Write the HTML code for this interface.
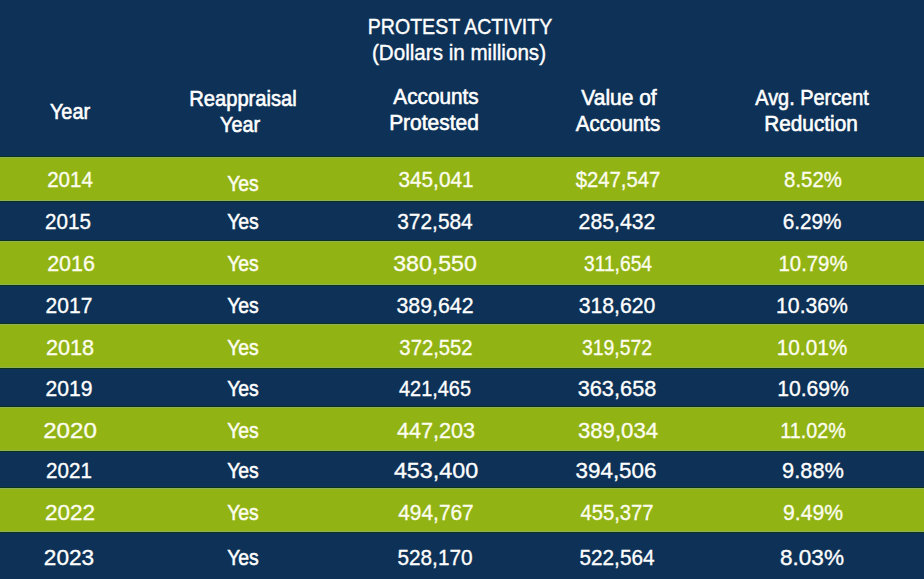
<!DOCTYPE html>
<html lang="en"><head><meta charset="utf-8"><title>Protest Activity</title>
<style>
html,body{margin:0;padding:0;}
body{width:924px;height:579px;overflow:hidden;background:#0e3257;font-family:"Liberation Sans",Arial,sans-serif;color:#fff;position:relative;}
.head{position:absolute;left:0;top:0;width:924px;height:157px;box-shadow:inset 0 -1px #0e3317;}
.row{position:absolute;left:0;width:924px;}
.g{background:#92b314;box-shadow:inset 0 1px #8eb05c,inset 0 -1px #8eb05c;}
.b{background:#0e3257;box-shadow:inset 0 1px #0e3317,inset 0 -1px #0e3317;}
.b.last{box-shadow:inset 0 1px #0e3317;}
.i{position:absolute;white-space:nowrap;line-height:1;-webkit-text-stroke:0.35px #fff;}
.h{-webkit-text-stroke-width:0.6px;}
.t{-webkit-text-stroke-width:0.4px;}
.y{-webkit-text-stroke-width:0.55px;}
.g .i{color:#fcfdee;-webkit-text-stroke-color:#fcfdee;}
</style></head><body>
<div class="head">
<span class="i t" id="t0" style="left:459.95px;top:15.71px;font-size:22.50px;transform:translateX(-50%) scaleX(0.8699);">PROTEST ACTIVITY</span>
<span class="i t" id="t1" style="left:458.95px;top:41.81px;font-size:22.00px;transform:translateX(-50%) scaleX(0.9365);">(Dollars in millions)</span>
<span class="i h" id="h0" style="left:69.75px;top:100.81px;font-size:22.00px;transform:translateX(-50%) scaleX(0.9025);">Year</span>
<span class="i h" id="h1" style="left:242.95px;top:87.91px;font-size:22.00px;transform:translateX(-50%) scaleX(0.9166);">Reappraisal</span>
<span class="i h" id="h2" style="left:240.15px;top:113.91px;font-size:22.00px;transform:translateX(-50%) scaleX(0.8982);">Year</span>
<span class="i h" id="h3" style="left:436.25px;top:85.91px;font-size:22.00px;transform:translateX(-50%) scaleX(0.9424);">Accounts</span>
<span class="i h" id="h4" style="left:434.40px;top:111.50px;font-size:22.00px;transform:translateX(-50%) scaleX(0.9529);">Protested</span>
<span class="i h" id="h5" style="left:619.40px;top:86.81px;font-size:22.00px;transform:translateX(-50%) scaleX(0.9531);">Value of</span>
<span class="i h" id="h6" style="left:618.10px;top:113.00px;font-size:22.00px;transform:translateX(-50%) scaleX(0.9335);">Accounts</span>
<span class="i h" id="h7" style="left:812.15px;top:87.31px;font-size:22.00px;transform:translateX(-50%) scaleX(0.9043);">Avg. Percent</span>
<span class="i h" id="h8" style="left:811.10px;top:113.41px;font-size:22.00px;transform:translateX(-50%) scaleX(0.9432);">Reduction</span>
</div>
<div class="row g" style="top:157px;height:44px;">
<span class="i" id="c0_0" style="left:70.05px;top:12.00px;font-size:22.50px;transform:translateX(-50%) scaleX(0.9132);">2014</span>
<span class="i y" id="c0_1" style="left:243.00px;top:15.80px;font-size:22.50px;transform:translateX(-50%) scaleX(0.8598);">Yes</span>
<span class="i" id="c0_2" style="left:435.90px;top:12.00px;font-size:22.50px;transform:translateX(-50%) scaleX(0.9230);">345,041</span>
<span class="i" id="c0_3" style="left:618.00px;top:12.00px;font-size:22.50px;transform:translateX(-50%) scaleX(0.9010);">$247,547</span>
<span class="i" id="c0_4" style="left:812.70px;top:12.00px;font-size:22.50px;transform:translateX(-50%) scaleX(0.9050);">8.52%</span>
</div>
<div class="row b" style="top:201px;height:40px;">
<span class="i" id="c1_0" style="left:68.45px;top:9.80px;font-size:22.50px;transform:translateX(-50%) scaleX(0.9167);">2015</span>
<span class="i y" id="c1_1" style="left:243.00px;top:9.80px;font-size:22.50px;transform:translateX(-50%) scaleX(0.8616);">Yes</span>
<span class="i" id="c1_2" style="left:435.30px;top:9.80px;font-size:22.50px;transform:translateX(-50%) scaleX(0.9279);">372,584</span>
<span class="i" id="c1_3" style="left:616.70px;top:9.80px;font-size:22.50px;transform:translateX(-50%) scaleX(0.9436);">285,432</span>
<span class="i" id="c1_4" style="left:811.95px;top:9.80px;font-size:22.50px;transform:translateX(-50%) scaleX(0.9206);">6.29%</span>
</div>
<div class="row g" style="top:241px;height:44px;">
<span class="i" id="c2_0" style="left:70.70px;top:12.00px;font-size:22.50px;transform:translateX(-50%) scaleX(0.9538);">2016</span>
<span class="i y" id="c2_1" style="left:243.00px;top:12.00px;font-size:22.50px;transform:translateX(-50%) scaleX(0.8598);">Yes</span>
<span class="i" id="c2_2" style="left:435.05px;top:12.00px;font-size:22.50px;transform:translateX(-50%) scaleX(1.0270);">380,550</span>
<span class="i" id="c2_3" style="left:617.65px;top:12.00px;font-size:22.50px;transform:translateX(-50%) scaleX(0.8539);">311,654</span>
<span class="i" id="c2_4" style="left:812.80px;top:12.00px;font-size:22.50px;transform:translateX(-50%) scaleX(0.9040);">10.79%</span>
</div>
<div class="row b" style="top:285px;height:39px;">
<span class="i" id="c3_0" style="left:68.90px;top:10.00px;font-size:22.50px;transform:translateX(-50%) scaleX(0.9339);">2017</span>
<span class="i y" id="c3_1" style="left:243.00px;top:10.00px;font-size:22.50px;transform:translateX(-50%) scaleX(0.8616);">Yes</span>
<span class="i" id="c3_2" style="left:435.15px;top:10.00px;font-size:22.50px;transform:translateX(-50%) scaleX(0.9478);">389,642</span>
<span class="i" id="c3_3" style="left:617.45px;top:10.00px;font-size:22.50px;transform:translateX(-50%) scaleX(0.9430);">318,620</span>
<span class="i" id="c3_4" style="left:812.05px;top:10.00px;font-size:22.50px;transform:translateX(-50%) scaleX(0.9418);">10.36%</span>
</div>
<div class="row g" style="top:324px;height:44px;">
<span class="i" id="c4_0" style="left:70.30px;top:12.80px;font-size:22.50px;transform:translateX(-50%) scaleX(0.9632);">2018</span>
<span class="i y" id="c4_1" style="left:243.00px;top:12.80px;font-size:22.50px;transform:translateX(-50%) scaleX(0.8598);">Yes</span>
<span class="i" id="c4_2" style="left:436.10px;top:12.80px;font-size:22.50px;transform:translateX(-50%) scaleX(0.9008);">372,552</span>
<span class="i" id="c4_3" style="left:617.25px;top:12.80px;font-size:22.50px;transform:translateX(-50%) scaleX(0.8607);">319,572</span>
<span class="i" id="c4_4" style="left:812.10px;top:12.80px;font-size:22.50px;transform:translateX(-50%) scaleX(0.9260);">10.01%</span>
</div>
<div class="row b" style="top:368px;height:39px;">
<span class="i" id="c5_0" style="left:69.35px;top:10.00px;font-size:22.50px;transform:translateX(-50%) scaleX(0.9380);">2019</span>
<span class="i y" id="c5_1" style="left:243.00px;top:10.00px;font-size:22.50px;transform:translateX(-50%) scaleX(0.8616);">Yes</span>
<span class="i" id="c5_2" style="left:435.30px;top:10.00px;font-size:22.50px;transform:translateX(-50%) scaleX(0.8838);">421,465</span>
<span class="i" id="c5_3" style="left:617.05px;top:10.00px;font-size:22.50px;transform:translateX(-50%) scaleX(0.9676);">363,658</span>
<span class="i" id="c5_4" style="left:812.55px;top:10.00px;font-size:22.50px;transform:translateX(-50%) scaleX(0.9400);">10.69%</span>
</div>
<div class="row g" style="top:407px;height:44px;">
<span class="i" id="c6_0" style="left:70.35px;top:13.00px;font-size:22.50px;transform:translateX(-50%) scaleX(1.0717);">2020</span>
<span class="i y" id="c6_1" style="left:243.00px;top:13.00px;font-size:22.50px;transform:translateX(-50%) scaleX(0.8598);">Yes</span>
<span class="i" id="c6_2" style="left:435.85px;top:13.00px;font-size:22.50px;transform:translateX(-50%) scaleX(0.9601);">447,203</span>
<span class="i" id="c6_3" style="left:617.85px;top:13.00px;font-size:22.50px;transform:translateX(-50%) scaleX(0.9851);">389,034</span>
<span class="i" id="c6_4" style="left:813.05px;top:13.00px;font-size:22.50px;transform:translateX(-50%) scaleX(0.8769);">11.02%</span>
</div>
<div class="row b" style="top:451px;height:37px;">
<span class="i" id="c7_0" style="left:68.90px;top:9.00px;font-size:22.50px;transform:translateX(-50%) scaleX(0.9164);">2021</span>
<span class="i y" id="c7_1" style="left:243.00px;top:9.00px;font-size:22.50px;transform:translateX(-50%) scaleX(0.8616);">Yes</span>
<span class="i" id="c7_2" style="left:435.60px;top:9.00px;font-size:22.50px;transform:translateX(-50%) scaleX(1.0349);">453,400</span>
<span class="i" id="c7_3" style="left:616.40px;top:9.00px;font-size:22.50px;transform:translateX(-50%) scaleX(0.9949);">394,506</span>
<span class="i" id="c7_4" style="left:812.60px;top:9.00px;font-size:22.50px;transform:translateX(-50%) scaleX(0.9684);">9.88%</span>
</div>
<div class="row g" style="top:488px;height:44px;">
<span class="i" id="c8_0" style="left:70.30px;top:13.91px;font-size:22.50px;transform:translateX(-50%) scaleX(1.0026);">2022</span>
<span class="i y" id="c8_1" style="left:243.00px;top:13.91px;font-size:22.50px;transform:translateX(-50%) scaleX(0.8598);">Yes</span>
<span class="i" id="c8_2" style="left:436.30px;top:13.91px;font-size:22.50px;transform:translateX(-50%) scaleX(0.9279);">494,767</span>
<span class="i" id="c8_3" style="left:617.10px;top:13.91px;font-size:22.50px;transform:translateX(-50%) scaleX(0.8989);">455,377</span>
<span class="i" id="c8_4" style="left:812.95px;top:13.91px;font-size:22.50px;transform:translateX(-50%) scaleX(0.9395);">9.49%</span>
</div>
<div class="row b last" style="top:532px;height:47px;">
<span class="i" id="c9_0" style="left:69.05px;top:15.00px;font-size:22.50px;transform:translateX(-50%) scaleX(1.0045);">2023</span>
<span class="i y" id="c9_1" style="left:243.00px;top:15.00px;font-size:22.50px;transform:translateX(-50%) scaleX(0.8616);">Yes</span>
<span class="i" id="c9_2" style="left:435.30px;top:15.00px;font-size:22.50px;transform:translateX(-50%) scaleX(0.9229);">528,170</span>
<span class="i" id="c9_3" style="left:617.00px;top:15.00px;font-size:22.50px;transform:translateX(-50%) scaleX(0.9229);">522,564</span>
<span class="i" id="c9_4" style="left:811.60px;top:15.00px;font-size:22.50px;transform:translateX(-50%) scaleX(1.0042);">8.03%</span>
</div>
</body></html>
